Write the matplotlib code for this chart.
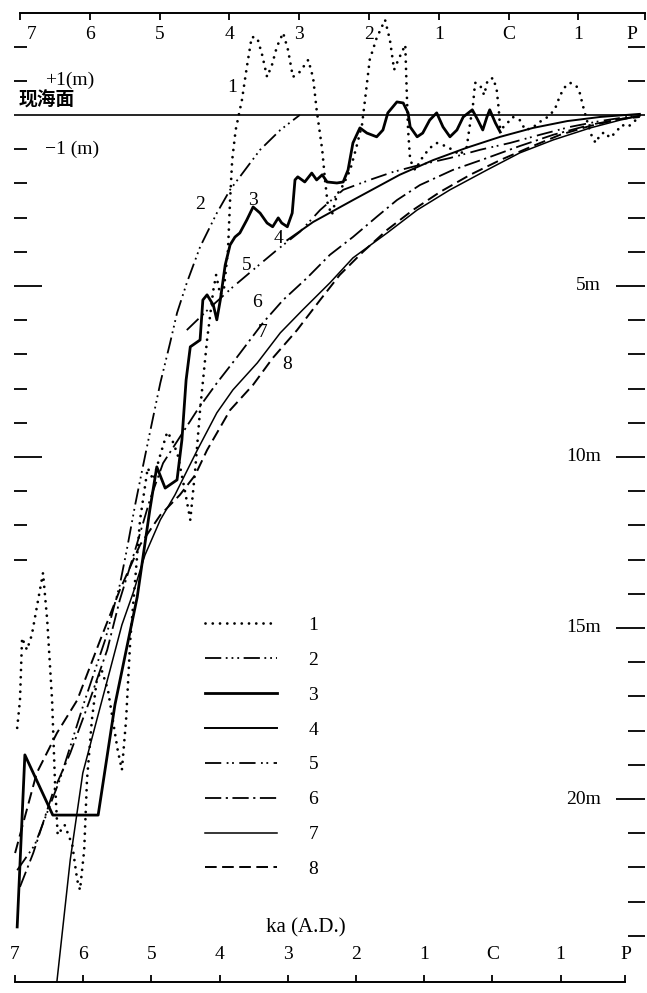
import matplotlib
matplotlib.use('Agg')
import matplotlib.pyplot as plt

plt.rcParams['font.family'] = ['Liberation Serif', 'Noto Sans CJK SC']

# x: ka (negative = B.C., 0 = C, positive = A.D., 1.95 = present P); y: m relative to present sea level
tick_vals = [-7, -6, -5, -4, -3, -2, -1, 0, 1, 1.95]
tick_labels = ['7', '6', '5', '4', '3', '2', '1', 'C', '1', 'P']
right_major = [-5, -10, -15, -20]
right_major_labels = ['5m', '10m', '15m', '20m']
right_minor = [2, 1] + [-v for v in range(1, 25) if v % 5 != 0]
left_major = [-5, -10]
left_minor = [2, 1, -1, -2, -3, -4, -6, -7, -8, -9, -11, -12, -13]

c1_ka = [-7.04,-7.00,-6.97,-6.90,-6.83,-6.74,-6.67,-6.61,-6.54,-6.50,
         -6.46,-6.36,-6.25,-6.18,-6.14,-6.08,-6.04,-5.97,-5.90,-5.83,
         -5.74,-5.67,-5.60,-5.54,-5.48,-5.42,-5.35,-5.28,-5.17,-5.09,
         -4.99,-4.89,-4.82,-4.74,-4.64,-4.56,-4.49,-4.42,-4.32,-4.23,
         -4.19,-4.13,-4.08,-4.02,-3.99,-3.96,-3.91,-3.82,-3.75,-3.68,
         -3.60,-3.53,-3.46,-3.39,-3.32,-3.23,-3.16,-3.09,-2.99,-2.87,
         -2.80,-2.75,-2.67,-2.63,-2.59,-2.53,-2.46,-2.37,-2.27,-2.19,
         -2.10,-2.04,-1.99,-1.89,-1.77,-1.70,-1.64,-1.58,-1.48,-1.46,
         -1.44,-1.41,-1.34,-1.23,-1.13,-1.03,-0.94,-0.80,-0.70,-0.60,
         -0.55,-0.51,-0.48,-0.41,-0.35,-0.30,-0.22,-0.17,-0.14,-0.12,
         -0.04,0.06,0.16,0.24,0.34,0.45,0.56,0.66,0.74,0.81,
         0.88,0.97,1.02,1.08,1.14,1.20,1.25,1.31,1.38,1.45,
         1.54,1.62,1.71,1.80,1.88]
c1_m = [-17.92,-17.11,-15.29,-15.64,-15.20,-14.18,-13.39,-14.77,-17.11,-19.44,
        -21.05,-20.76,-21.35,-22.37,-22.66,-21.49,-19.44,-17.69,-16.52,-16.23,
        -16.81,-17.69,-18.57,-19.15,-17.69,-15.35,-13.60,-11.84,-10.32,-10.67,
        -9.94,-9.27,-9.50,-9.94,-10.96,-11.84,-10.38,-8.63,-6.58,-5.12,
        -4.68,-5.26,-5.12,-3.95,-2.49,-1.32,-0.44,0.44,1.40,2.28,
        2.25,1.75,1.11,1.46,1.99,2.40,1.90,1.11,1.26,1.61,
        1.08,0.15,-1.02,-1.90,-2.63,-2.92,-2.34,-2.05,-1.61,-1.02,
        -0.29,0.73,1.61,2.25,2.78,2.19,1.32,1.61,2.05,0.73,
        -0.44,-1.32,-1.61,-1.23,-0.97,-0.82,-0.88,-1.02,-1.17,-0.94,
        -0.23,0.29,0.94,0.88,0.58,1.02,1.08,0.73,0.15,-0.44,
        -0.29,-0.06,-0.15,-0.44,-0.38,-0.20,-0.06,0.15,0.58,0.82,
        0.94,0.85,0.64,0.15,-0.29,-0.67,-0.82,-0.58,-0.50,-0.67,
        -0.50,-0.29,-0.35,-0.20,0.0]

c2_ka = [-7.04,-6.79,-6.43,-6.07,-5.78,-5.57,-5.47,-5.35,-5.24,-5.14,-4.99,
         -4.85,-4.75,-4.61,-4.42,-4.18,-3.99,-3.81,-3.56,-3.27,-2.99]
c2_m = [-22.08,-21.35,-19.44,-17.11,-15.35,-13.74,-12.72,-11.40,-10.29,-9.30,-7.84,
        -6.67,-5.79,-4.91,-3.86,-2.87,-2.19,-1.70,-1.02,-0.44,0.0]

c3_ka = [-7.04,-6.93,-6.53,-5.88,-5.64,-5.32,-5.14,-5.04,-4.92,-4.75,
         -4.68,-4.62,-4.56,-4.42,-4.38,-4.32,-4.23,-4.18,-4.13,-4.06,
         -3.99,-3.92,-3.85,-3.75,-3.66,-3.56,-3.46,-3.38,-3.30,-3.25,
         -3.17,-3.10,-3.06,-3.02,-2.92,-2.82,-2.75,-2.67,-2.60,-2.46,
         -2.37,-2.30,-2.23,-2.13,-2.03,-1.89,-1.80,-1.73,-1.60,-1.51,
         -1.44,-1.41,-1.31,-1.23,-1.13,-1.03,-0.94,-0.84,-0.74,-0.65,
         -0.52,-0.44,-0.37,-0.31,-0.27,-0.19,-0.12]
c3_m = [-23.74,-18.71,-20.47,-20.47,-17.25,-14.09,-11.55,-10.29,-10.91,-10.67,
        -9.50,-7.75,-6.78,-6.58,-5.41,-5.26,-5.56,-5.99,-5.41,-4.39,
        -3.80,-3.57,-3.45,-3.07,-2.69,-2.87,-3.16,-3.27,-3.01,-3.16,
        -3.27,-2.87,-1.90,-1.81,-1.96,-1.70,-1.90,-1.75,-1.96,-1.99,
        -1.96,-1.61,-0.82,-0.38,-0.53,-0.64,-0.44,0.06,0.38,0.35,
        0.06,-0.35,-0.64,-0.53,-0.15,0.06,-0.35,-0.64,-0.44,-0.06,
        0.15,-0.15,-0.44,-0.06,0.15,-0.23,-0.50]

c4_ka = [-3.17,-2.80,-2.23,-1.56,-1.08,-0.60,-0.12,0.35,0.84,1.31,1.88]
c4_m = [-3.66,-3.13,-2.49,-1.75,-1.32,-0.96,-0.64,-0.38,-0.18,-0.06,0.03]

c5_ka = [-4.61,-4.28,-3.95,-3.66,-3.32,-2.99,-2.70,-2.37,-1.99,-1.66,-1.27,
         -0.84,-0.41,0.02,0.45,0.88,1.31,1.88]
c5_m = [-6.29,-5.64,-5.03,-4.53,-3.95,-3.42,-2.78,-2.19,-1.90,-1.67,-1.46,
        -1.26,-1.02,-0.82,-0.58,-0.35,-0.18,0.0]

c6_ka = [-7.00,-6.81,-6.53,-6.28,-6.00,-5.75,-5.57,-5.35,-5.14,-4.95,-4.71,-4.46,
         -4.18,-3.89,-3.52,-3.23,-2.89,-2.56,-2.23,-1.89,-1.60,-1.27,-0.80,-0.31,
         0.16,0.64,1.17,1.60,1.88]
c6_m = [-22.57,-21.58,-19.82,-18.66,-17.11,-15.64,-14.18,-12.72,-11.26,-10.18,-9.42,-8.63,
        -7.84,-7.08,-6.08,-5.41,-4.77,-4.09,-3.57,-2.98,-2.49,-2.05,-1.61,-1.26,
        -0.91,-0.58,-0.29,-0.12,-0.03]

c7_ka = [-6.47,-6.28,-6.10,-5.90,-5.71,-5.54,-5.38,-5.21,-4.99,-4.78,-4.46,-4.18,
         -3.95,-3.60,-3.27,-2.95,-2.56,-2.23,-1.74,-1.31,-0.84,-0.31,0.16,0.64,
         1.17,1.60,1.88]
c7_m = [-25.32,-21.78,-19.24,-17.69,-16.23,-14.91,-13.98,-12.87,-11.84,-11.11,-9.80,-8.71,
        -8.04,-7.25,-6.37,-5.70,-4.91,-4.18,-3.45,-2.78,-2.19,-1.61,-1.11,-0.73,
        -0.38,-0.15,-0.03]

c8_ka = [-7.07,-6.76,-6.47,-6.18,-5.85,-5.57,-5.28,-4.99,-4.71,-4.49,-4.32,-3.99,
         -3.66,-3.38,-3.03,-2.70,-2.42,-2.09,-1.74,-1.37,-0.98,-0.55,-0.12,0.31,
         0.74,1.17,1.60,1.88]
c8_m = [-21.58,-19.24,-18.07,-17.11,-15.35,-13.89,-12.57,-11.70,-11.11,-10.53,-9.80,-8.63,
        -7.89,-7.11,-6.29,-5.41,-4.68,-4.01,-3.36,-2.78,-2.25,-1.75,-1.32,-0.94,
        -0.58,-0.32,-0.12,-0.06]

curve_names = ['1', '2', '3', '4', '5', '6', '7', '8']
label_ka = [-3.96, -4.42, -3.66, -3.30, -3.75, -3.60, -3.52, -3.17]
label_m = [0.79, -2.63, -2.49, -3.60, -4.39, -5.47, -6.35, -7.31]

styles = [
    dict(lw=2.0, linestyle=(0, (0.01, 2.6)), dash_capstyle='round'),
    dict(lw=1.3, linestyle=(0, (9, 2.5, 1, 2.2, 1, 2.2, 1, 2.5))),
    dict(lw=2.0, linestyle='-'),
    dict(lw=1.4, linestyle='-'),
    dict(lw=1.3, linestyle=(0, (9, 3, 1, 2, 1, 3))),
    dict(lw=1.3, linestyle=(0, (9, 2.5, 1.2, 2.5))),
    dict(lw=1.1, linestyle='-'),
    dict(lw=1.4, linestyle=(0, (6, 2.8))),
]
series = [(c1_ka, c1_m), (c2_ka, c2_m), (c3_ka, c3_m), (c4_ka, c4_m),
          (c5_ka, c5_m), (c6_ka, c6_m), (c7_ka, c7_m), (c8_ka, c8_m)]

fig = plt.figure(figsize=(6.47, 9.93), dpi=100)
ax = fig.add_axes([0.02117, 0.01108, 0.97635, 0.97583])
ax.set_xlim(-7.09, 1.96)
ax.set_ylim(-25.35, 2.98)

for (xs, ys), st, name in zip(series, styles, curve_names):
    ax.plot(xs, ys, color='black', label=name, **st)

ax.axhline(0, color='black', lw=1.2)

for name, lx, ly in zip(curve_names, label_ka, label_m):
    ax.text(lx, ly, name, fontsize=14, ha='center', va='center')

# spines
for s in ['left', 'right', 'bottom']:
    ax.spines[s].set_visible(False)
ax.spines['top'].set_bounds(-7, 1.95)
ax.spines['top'].set_linewidth(1.4)

# top ticks
ax.xaxis.set_ticks_position('top')
ax.set_xticks(tick_vals)
ax.tick_params(axis='x', direction='in', length=5, width=1.3,
               labeltop=False, labelbottom=False)
top_offsets = {'7': 0.16, 'P': -0.18}
for v, lab in zip(tick_vals, tick_labels):
    ax.text(v + top_offsets.get(lab, 0), 2.34, lab, fontsize=14,
            ha='center', va='center')

# bottom axis (scan is slightly narrower at the bottom)
def to_bottom(x):
    return (x + 7.0716) / 0.977 - 7

def from_bottom(v):
    return (v + 7) * 0.977 - 7.0716

sec = ax.secondary_xaxis('bottom', functions=(to_bottom, from_bottom))
sec.set_xticks(tick_vals, tick_labels)
sec.tick_params(direction='in', length=5, width=1.3, pad=-26, labelsize=14)
sec.spines['bottom'].set_bounds(-7, 1.95)
sec.spines['bottom'].set_linewidth(1.4)

# right ticks
ax.yaxis.set_ticks_position('right')
ax.set_yticks(right_major)
ax.set_yticks(right_minor, minor=True)
ax.tick_params(axis='y', which='major', direction='in', length=21, width=1.3,
               labelright=False, labelleft=False)
ax.tick_params(axis='y', which='minor', direction='in', length=12, width=1.3,
               labelright=False, labelleft=False)
for v, lab in zip(right_major, right_major_labels):
    ax.text(0.93, v, lab, fontsize=14, ha='right', va='center',
            transform=ax.get_yaxis_transform())

# left ticks
secl = ax.secondary_yaxis('left')
secl.set_yticks(left_major)
secl.set_yticks(left_minor, minor=True)
secl.tick_params(which='major', direction='in', length=20, width=1.3, labelleft=False)
secl.tick_params(which='minor', direction='in', length=9.5, width=1.3, labelleft=False)
secl.spines['left'].set_visible(False)

# sea-level annotations
ytr = ax.get_yaxis_transform()
ax.text(0.049, 1.0, '+1(m)', fontsize=14, ha='left', va='center', transform=ytr)
ax.text(0.049, -1.0, '−1 (m)', fontsize=14, ha='left', va='center', transform=ytr)
ax.text(0.007, 0.44, '现海面', fontsize=13.5, fontweight='bold', ha='left', va='center',
        transform=ytr, family=['Noto Sans CJK SC', 'DejaVu Sans'])

ax.text(-2.90, -23.77, 'ka (A.D.)', fontsize=15, ha='center', va='center')

ax.legend(loc='upper left', bbox_to_anchor=(0.3035, 0.3775), frameon=False,
          fontsize=14, handlelength=3.7, handletextpad=1.6, labelspacing=0.89,
          borderpad=0, borderaxespad=0)

fig.savefig('out.png', dpi=100, facecolor='white')
